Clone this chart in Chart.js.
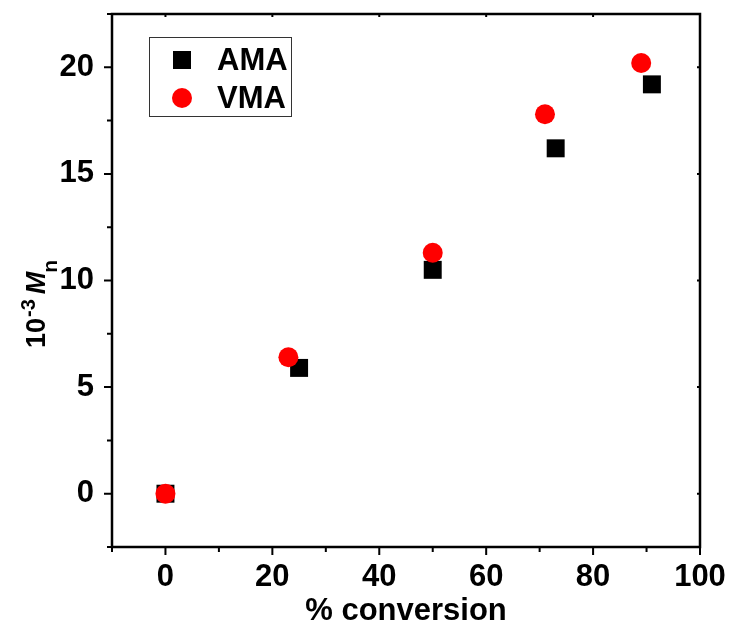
<!DOCTYPE html>
<html>
<head>
<meta charset="utf-8">
<script src="https://cdn.jsdelivr.net/npm/chart.js@4/dist/chart.umd.min.js"></script>
<style>
html,body{margin:0;padding:0;background:#fff;}
#wrap{width:732px;height:630px;position:relative;}
</style>
</head>
<body>
<div id="wrap"><canvas id="c" width="732" height="630"></canvas></div>
<script>
// ---- data ----
const amaConversion = [0, 25, 50, 73, 91];
const amaMn = [0, 5.9, 10.5, 16.2, 19.2];
const vmaConversion = [0, 23, 50, 71, 89];
const vmaMn = [0, 6.4, 11.3, 17.8, 20.2];
const seriesNames = ['AMA', 'VMA'];
const xMajorTicks = [0, 20, 40, 60, 80, 100];
const xMinorTicks = [-10, 10, 30, 50, 70, 90];
const yMajorTicks = [0, 5, 10, 15, 20];
const yMinorTicks = [-2.5, 2.5, 7.5, 12.5, 17.5, 22.5];
const xTitle = '% conversion';

const FONT = '"Liberation Sans", Arial, Helvetica, sans-serif';

const toPts = (xs, ys) => xs.map((x, i) => ({x: x, y: ys[i]}));

const framePlugin = {
  id: 'frame',
  afterDatasetsDraw(chart) {
    const ctx = chart.ctx;
    const a = chart.chartArea;
    const xs = chart.scales.x, ys = chart.scales.y;
    ctx.save();
    ctx.strokeStyle = '#000';
    ctx.lineWidth = 2.5;
    ctx.strokeRect(a.left, a.top, a.right - a.left, a.bottom - a.top);
    ctx.lineWidth = 2;
    ctx.beginPath();
    xMajorTicks.forEach(v => { const p = xs.getPixelForValue(v); ctx.moveTo(p, a.bottom); ctx.lineTo(p, a.bottom + 8); ctx.moveTo(p, a.top); ctx.lineTo(p, a.top + 3); });
    xMinorTicks.forEach(v => { const p = xs.getPixelForValue(v); ctx.moveTo(p, a.bottom); ctx.lineTo(p, a.bottom + 5); });
    yMajorTicks.forEach(v => { const p = ys.getPixelForValue(v); ctx.moveTo(a.left, p); ctx.lineTo(a.left - 8, p); ctx.moveTo(a.right, p); ctx.lineTo(a.right - 3, p); });
    yMinorTicks.forEach(v => { const p = ys.getPixelForValue(v); ctx.moveTo(a.left, p); ctx.lineTo(a.left - 5, p); });
    ctx.stroke();

    // y axis title: 10^-3 M_n (rotated)
    ctx.translate(45, 348);
    ctx.rotate(-Math.PI / 2);
    ctx.fillStyle = '#000';
    ctx.textBaseline = 'alphabetic';
    ctx.textAlign = 'left';
    let x = 0;
    ctx.font = 'bold 27px ' + FONT;
    ctx.fillText('10', x, 0); x += ctx.measureText('10').width;
    ctx.font = 'bold 20px ' + FONT;
    ctx.fillText('-3', x + 1, -10); x += ctx.measureText('-3').width + 6;
    ctx.font = 'italic bold 27px ' + FONT;
    ctx.fillText('M', x, 0); x += ctx.measureText('M').width;
    ctx.font = 'bold 21px ' + FONT;
    ctx.fillText('n', x - 1, 12);

    ctx.restore();

    // legend
    ctx.save();
    ctx.strokeStyle = '#333';
    ctx.lineWidth = 1;
    ctx.strokeRect(149.5, 37.5, 142, 79);
    const ds = chart.data.datasets;
    ctx.font = 'bold 31px ' + FONT;
    ctx.textBaseline = 'alphabetic';
    ctx.fillStyle = ds[0].backgroundColor;
    ctx.fillRect(173, 51, 18, 18);
    ctx.fillStyle = '#000';
    ctx.fillText(ds[0].label, 217, 70);
    ctx.fillStyle = ds[1].backgroundColor;
    ctx.beginPath(); ctx.arc(182, 98, 10, 0, Math.PI * 2); ctx.fill();
    ctx.fillStyle = '#000';
    ctx.fillText(ds[1].label, 217, 108);
    ctx.restore();
  }
};

new Chart(document.getElementById('c'), {
  type: 'scatter',
  data: {
    datasets: [
      { label: seriesNames[0], data: toPts(amaConversion, amaMn), pointStyle: 'rect', pointRadius: 12.7, pointHoverRadius: 12.7,
        backgroundColor: '#000000', borderColor: '#000000', borderWidth: 0, order: 2 },
      { label: seriesNames[1], data: toPts(vmaConversion, vmaMn), pointStyle: 'circle', pointRadius: 10, pointHoverRadius: 10,
        backgroundColor: '#ff0000', borderColor: '#ff0000', borderWidth: 0, order: 1 }
    ]
  },
  options: {
    responsive: false,
    animation: false,
    devicePixelRatio: 1,
    layout: { padding: { top: 14, right: 32, left: 0, bottom: 0 } },
    plugins: { legend: { display: false }, tooltip: { enabled: false } },
    scales: {
      x: {
        type: 'linear', min: -10, max: 100,
        grid: { display: false, drawTicks: false },
        border: { display: false },
        afterBuildTicks: s => { s.ticks = xMajorTicks.map(v => ({ value: v })); },
        afterFit: s => { s.height = 83; s.paddingLeft = 0; s.paddingRight = 0; },
        ticks: { color: '#000', padding: 12, maxRotation: 0, autoSkip: false, font: { family: FONT, size: 31, weight: 'bold' } },
        title: { display: true, text: xTitle, color: '#000', padding: 0, font: { family: FONT, size: 31, weight: 'bold' } }
      },
      y: {
        type: 'linear', min: -2.5, max: 22.5,
        grid: { display: false, drawTicks: false },
        border: { display: false },
        afterBuildTicks: s => { s.ticks = yMajorTicks.map(v => ({ value: v })); },
        afterFit: s => { s.width = 112; s.paddingTop = 0; s.paddingBottom = 0; },
        ticks: { color: '#000', padding: 18, autoSkip: false, font: { family: FONT, size: 31, weight: 'bold' } }
      }
    }
  },
  plugins: [framePlugin]
});
</script>
</body>
</html>
